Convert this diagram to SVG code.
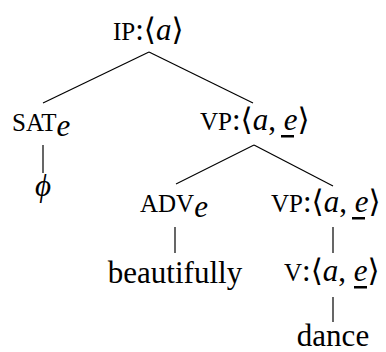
<svg xmlns="http://www.w3.org/2000/svg" width="386" height="352" viewBox="0 0 386 352">
<style>
.t{font-family:"Liberation Serif","DejaVu Serif",serif;font-size:31px;fill:#000}
.sc{font-size:25px}
.it{font-style:italic}
.e{stroke:#000;stroke-width:1.2;fill:none}
.u{fill:#000}
</style>
<rect width="386" height="352" fill="#fff"/>
<g id="connectors">
<line class="e" x1="149" y1="52" x2="43" y2="103"/>
<line class="e" x1="149" y1="52" x2="253" y2="103"/>
<line class="e" x1="43" y1="145" x2="43" y2="173"/>
<line class="e" x1="254" y1="145" x2="176" y2="184"/>
<line class="e" x1="254" y1="145" x2="333" y2="186"/>
<line class="e" x1="175" y1="227" x2="175" y2="253"/>
<line class="e" x1="333" y1="227" x2="333" y2="253"/>
<line class="e" x1="333" y1="297" x2="333" y2="322"/>
</g>
<g id="IP">
<text class="t" x="113" y="40"><tspan class="sc">IP</tspan>:⟨<tspan class="it">a</tspan>⟩</text>
</g>
<g id="SAT">
<text class="t" x="12" y="131"><tspan class="sc">SAT</tspan><tspan class="it" dy="5">e</tspan></text>
</g>
<g id="phi">
<text class="t it" x="43" y="196" text-anchor="middle">ϕ</text>
</g>
<g id="VP1">
<text class="t" x="200" y="130"><tspan class="sc">VP</tspan>:⟨<tspan class="it">a</tspan>, <tspan class="it">e</tspan>⟩</text>
<rect class="u" x="281" y="135" width="13" height="2.5"/>
</g>
<g id="ADV">
<text class="t" x="140" y="212"><tspan class="sc">ADV</tspan><tspan class="it" dy="5">e</tspan></text>
</g>
<g id="beautifully">
<text class="t" x="175" y="283" text-anchor="middle">beautifully</text>
</g>
<g id="VP2">
<text class="t" x="271" y="212"><tspan class="sc">VP</tspan>:⟨<tspan class="it">a</tspan>, <tspan class="it">e</tspan>⟩</text>
<rect class="u" x="352" y="217" width="13" height="2.5"/>
</g>
<g id="V">
<text class="t" x="284" y="281"><tspan class="sc">V</tspan>:⟨<tspan class="it">a</tspan>, <tspan class="it">e</tspan>⟩</text>
<rect class="u" x="354" y="286" width="13" height="2.5"/>
</g>
<g id="dance">
<text class="t" x="333" y="346" text-anchor="middle">dance</text>
</g>
</svg>
